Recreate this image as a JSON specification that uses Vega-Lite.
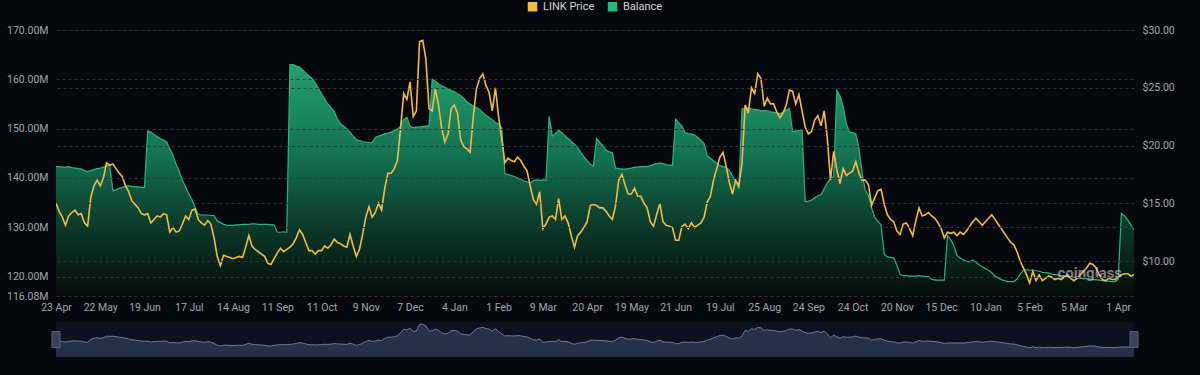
{
  "$schema": "https://vega.github.io/schema/vega-lite/v6.json",
  "background": "#07080d",
  "padding": {"left": 6, "top": 1, "right": 29, "bottom": 18},
  "autosize": {"type": "pad"},
  "bounds": "flush",
  "spacing": 26,
  "config": {
    "view": {"stroke": null},
    "font": "Roboto",
    "axis": {"labelColor": "#a2a5ad", "labelFontSize": 10.5, "labelFont": "Roboto", "domain": false, "ticks": false, "tickSize": 0, "gridColor": "#30333b", "gridDash": [3, 3], "gridWidth": 1, "labelOverlap": false}
  },
  "data": {"values": [
    {"date":"2023-04-23","balance":142.3,"price":15.0},
    {"date":"2023-04-25","balance":142.3,"price":14.3},
    {"date":"2023-04-27","balance":142.2,"price":13.8},
    {"date":"2023-04-29","balance":142.2,"price":13.1},
    {"date":"2023-05-01","balance":142.3,"price":13.9},
    {"date":"2023-05-03","balance":142.1,"price":14.2},
    {"date":"2023-05-05","balance":142.0,"price":14.4},
    {"date":"2023-05-07","balance":141.9,"price":14.0},
    {"date":"2023-05-09","balance":141.8,"price":14.1},
    {"date":"2023-05-11","balance":141.5,"price":13.3},
    {"date":"2023-05-13","balance":141.3,"price":13.0},
    {"date":"2023-05-15","balance":141.5,"price":15.5},
    {"date":"2023-05-17","balance":141.7,"price":16.5},
    {"date":"2023-05-19","balance":141.9,"price":17.0},
    {"date":"2023-05-22","balance":142.0,"price":16.5},
    {"date":"2023-05-24","balance":142.2,"price":17.2},
    {"date":"2023-05-26","balance":142.5,"price":18.5},
    {"date":"2023-05-28","balance":142.6,"price":18.3},
    {"date":"2023-05-30","balance":137.4,"price":18.4},
    {"date":"2023-06-01","balance":137.6,"price":18.0},
    {"date":"2023-06-03","balance":137.9,"price":17.6},
    {"date":"2023-06-05","balance":138.1,"price":17.3},
    {"date":"2023-06-07","balance":138.3,"price":16.5},
    {"date":"2023-06-09","balance":138.4,"price":16.0},
    {"date":"2023-06-11","balance":138.3,"price":15.2},
    {"date":"2023-06-13","balance":138.2,"price":14.9},
    {"date":"2023-06-15","balance":138.2,"price":14.6},
    {"date":"2023-06-17","balance":138.1,"price":14.1},
    {"date":"2023-06-19","balance":138.1,"price":14.0},
    {"date":"2023-06-21","balance":149.5,"price":14.1},
    {"date":"2023-06-23","balance":149.3,"price":13.3},
    {"date":"2023-06-25","balance":148.8,"price":13.6},
    {"date":"2023-06-27","balance":148.4,"price":13.9},
    {"date":"2023-06-29","balance":148.0,"price":13.8},
    {"date":"2023-07-01","balance":147.7,"price":14.1},
    {"date":"2023-07-03","balance":147.3,"price":14.0},
    {"date":"2023-07-05","balance":145.9,"price":12.5},
    {"date":"2023-07-07","balance":144.6,"price":12.9},
    {"date":"2023-07-09","balance":142.8,"price":12.5},
    {"date":"2023-07-11","balance":141.3,"price":12.6},
    {"date":"2023-07-13","balance":139.5,"price":13.2},
    {"date":"2023-07-15","balance":138.2,"price":13.9},
    {"date":"2023-07-17","balance":136.8,"price":13.6},
    {"date":"2023-07-19","balance":135.6,"price":14.4},
    {"date":"2023-07-21","balance":134.0,"price":14.5},
    {"date":"2023-07-23","balance":132.7,"price":13.6},
    {"date":"2023-07-25","balance":132.5,"price":13.3},
    {"date":"2023-07-27","balance":132.5,"price":13.1},
    {"date":"2023-07-29","balance":132.5,"price":13.5},
    {"date":"2023-07-31","balance":132.4,"price":13.2},
    {"date":"2023-08-02","balance":132.4,"price":12.0},
    {"date":"2023-08-04","balance":131.3,"price":10.4},
    {"date":"2023-08-06","balance":131.0,"price":9.6},
    {"date":"2023-08-08","balance":130.6,"price":10.5},
    {"date":"2023-08-10","balance":130.4,"price":10.4},
    {"date":"2023-08-12","balance":130.4,"price":10.3},
    {"date":"2023-08-14","balance":130.4,"price":10.2},
    {"date":"2023-08-16","balance":130.5,"price":10.3},
    {"date":"2023-08-18","balance":130.5,"price":10.4},
    {"date":"2023-08-20","balance":130.6,"price":10.3},
    {"date":"2023-08-22","balance":130.6,"price":11.2},
    {"date":"2023-08-24","balance":130.6,"price":12.2},
    {"date":"2023-08-26","balance":130.7,"price":11.3},
    {"date":"2023-08-28","balance":130.7,"price":11.0},
    {"date":"2023-08-30","balance":130.6,"price":10.8},
    {"date":"2023-09-01","balance":130.6,"price":10.6},
    {"date":"2023-09-03","balance":130.6,"price":10.4},
    {"date":"2023-09-05","balance":130.6,"price":9.8},
    {"date":"2023-09-07","balance":130.5,"price":9.7},
    {"date":"2023-09-09","balance":130.5,"price":10.2},
    {"date":"2023-09-11","balance":129.0,"price":10.7},
    {"date":"2023-09-13","balance":129.0,"price":11.1},
    {"date":"2023-09-15","balance":129.1,"price":10.8},
    {"date":"2023-09-17","balance":129.0,"price":11.0},
    {"date":"2023-09-19","balance":163.0,"price":11.2},
    {"date":"2023-09-21","balance":163.0,"price":11.5},
    {"date":"2023-09-23","balance":162.7,"price":12.0},
    {"date":"2023-09-25","balance":162.5,"price":12.7},
    {"date":"2023-09-27","balance":161.9,"price":12.3},
    {"date":"2023-09-29","balance":161.3,"price":11.6},
    {"date":"2023-10-01","balance":160.7,"price":10.9},
    {"date":"2023-10-03","balance":160.2,"price":10.9},
    {"date":"2023-10-05","balance":159.3,"price":10.6},
    {"date":"2023-10-07","balance":158.2,"price":10.9},
    {"date":"2023-10-11","balance":157.0,"price":10.9},
    {"date":"2023-10-13","balance":156.0,"price":11.3},
    {"date":"2023-10-15","balance":155.0,"price":11.1},
    {"date":"2023-10-17","balance":154.2,"price":11.4},
    {"date":"2023-10-19","balance":153.5,"price":11.9},
    {"date":"2023-10-21","balance":152.0,"price":11.6},
    {"date":"2023-10-23","balance":151.0,"price":11.5},
    {"date":"2023-10-25","balance":150.5,"price":11.3},
    {"date":"2023-10-27","balance":150.0,"price":11.2},
    {"date":"2023-10-29","balance":149.3,"price":12.3},
    {"date":"2023-10-31","balance":148.5,"price":11.3},
    {"date":"2023-11-02","balance":147.8,"price":10.4},
    {"date":"2023-11-04","balance":147.6,"price":11.0},
    {"date":"2023-11-06","balance":147.4,"price":12.3},
    {"date":"2023-11-09","balance":147.3,"price":13.8},
    {"date":"2023-11-11","balance":147.2,"price":14.7},
    {"date":"2023-11-13","balance":147.2,"price":13.8},
    {"date":"2023-11-15","balance":148.2,"price":14.2},
    {"date":"2023-11-17","balance":148.5,"price":15.0},
    {"date":"2023-11-19","balance":148.7,"price":14.4},
    {"date":"2023-11-21","balance":149.0,"price":16.3},
    {"date":"2023-11-23","balance":149.1,"price":17.6},
    {"date":"2023-11-25","balance":149.3,"price":17.6},
    {"date":"2023-11-27","balance":149.6,"price":18.0},
    {"date":"2023-11-29","balance":149.9,"price":18.7},
    {"date":"2023-12-01","balance":150.5,"price":21.5},
    {"date":"2023-12-03","balance":151.9,"price":24.5},
    {"date":"2023-12-05","balance":152.3,"price":24.0},
    {"date":"2023-12-07","balance":150.5,"price":25.5},
    {"date":"2023-12-09","balance":150.2,"price":22.5},
    {"date":"2023-12-11","balance":150.3,"price":23.0},
    {"date":"2023-12-13","balance":150.3,"price":29.0},
    {"date":"2023-12-15","balance":150.4,"price":29.1},
    {"date":"2023-12-17","balance":150.5,"price":27.5},
    {"date":"2023-12-19","balance":150.6,"price":23.2},
    {"date":"2023-12-21","balance":160.0,"price":23.0},
    {"date":"2023-12-23","balance":159.6,"price":24.9},
    {"date":"2023-12-25","balance":159.1,"price":23.5},
    {"date":"2023-12-27","balance":158.7,"price":21.5},
    {"date":"2023-12-29","balance":158.4,"price":20.3},
    {"date":"2023-12-31","balance":158.1,"price":21.0},
    {"date":"2024-01-02","balance":157.8,"price":23.2},
    {"date":"2024-01-04","balance":157.5,"price":23.5},
    {"date":"2024-01-06","balance":157.1,"price":22.8},
    {"date":"2024-01-08","balance":156.7,"price":20.5},
    {"date":"2024-01-10","balance":156.2,"price":19.9},
    {"date":"2024-01-12","balance":155.4,"price":19.7},
    {"date":"2024-01-14","balance":155.0,"price":19.4},
    {"date":"2024-01-16","balance":154.6,"price":22.5},
    {"date":"2024-01-18","balance":154.3,"price":24.9},
    {"date":"2024-01-20","balance":153.9,"price":25.8},
    {"date":"2024-01-22","balance":153.3,"price":26.2},
    {"date":"2024-01-24","balance":152.7,"price":25.2},
    {"date":"2024-01-26","balance":152.2,"price":24.6},
    {"date":"2024-01-28","balance":151.8,"price":23.0},
    {"date":"2024-01-30","balance":151.2,"price":25.0},
    {"date":"2024-02-01","balance":151.0,"price":22.5},
    {"date":"2024-02-03","balance":150.2,"price":20.6},
    {"date":"2024-02-05","balance":140.9,"price":18.5},
    {"date":"2024-02-07","balance":140.7,"price":18.9},
    {"date":"2024-02-09","balance":140.5,"price":18.7},
    {"date":"2024-02-11","balance":140.3,"price":18.6},
    {"date":"2024-02-13","balance":140.0,"price":19.0},
    {"date":"2024-02-15","balance":139.7,"price":18.7},
    {"date":"2024-02-17","balance":139.4,"price":18.2},
    {"date":"2024-02-19","balance":139.2,"price":17.8},
    {"date":"2024-02-21","balance":139.0,"price":16.5},
    {"date":"2024-02-23","balance":139.5,"price":15.3},
    {"date":"2024-02-25","balance":139.6,"price":14.9},
    {"date":"2024-02-27","balance":139.5,"price":16.0},
    {"date":"2024-03-09","balance":139.6,"price":12.8},
    {"date":"2024-03-11","balance":139.5,"price":13.2},
    {"date":"2024-03-13","balance":152.5,"price":13.8},
    {"date":"2024-03-15","balance":148.5,"price":13.9},
    {"date":"2024-03-17","balance":149.0,"price":13.6},
    {"date":"2024-03-19","balance":149.7,"price":15.4},
    {"date":"2024-03-21","balance":149.2,"price":13.6},
    {"date":"2024-03-23","balance":148.6,"price":13.9},
    {"date":"2024-03-25","balance":148.0,"price":13.3},
    {"date":"2024-03-27","balance":147.4,"price":12.2},
    {"date":"2024-03-29","balance":146.8,"price":11.2},
    {"date":"2024-03-31","balance":146.2,"price":12.2},
    {"date":"2024-04-02","balance":145.2,"price":12.5},
    {"date":"2024-04-04","balance":144.3,"price":12.9},
    {"date":"2024-04-20","balance":143.5,"price":13.4},
    {"date":"2024-04-22","balance":142.8,"price":14.8},
    {"date":"2024-04-24","balance":142.4,"price":14.9},
    {"date":"2024-04-26","balance":148.0,"price":14.8},
    {"date":"2024-04-28","balance":147.2,"price":14.6},
    {"date":"2024-04-30","balance":146.6,"price":14.6},
    {"date":"2024-05-02","balance":145.6,"price":14.3},
    {"date":"2024-05-04","balance":145.3,"price":13.9},
    {"date":"2024-05-06","balance":145.1,"price":13.6},
    {"date":"2024-05-08","balance":142.0,"price":14.8},
    {"date":"2024-05-10","balance":141.9,"price":17.0},
    {"date":"2024-05-12","balance":141.8,"price":17.5},
    {"date":"2024-05-14","balance":141.8,"price":16.6},
    {"date":"2024-05-16","balance":141.9,"price":15.8},
    {"date":"2024-05-19","balance":142.0,"price":15.8},
    {"date":"2024-05-21","balance":142.2,"price":16.3},
    {"date":"2024-05-23","balance":142.2,"price":15.6},
    {"date":"2024-05-25","balance":142.3,"price":15.6},
    {"date":"2024-05-27","balance":142.3,"price":15.0},
    {"date":"2024-05-29","balance":142.3,"price":14.6},
    {"date":"2024-05-31","balance":142.5,"price":13.4},
    {"date":"2024-06-02","balance":142.7,"price":13.0},
    {"date":"2024-06-04","balance":142.9,"price":14.0},
    {"date":"2024-06-06","balance":143.0,"price":15.0},
    {"date":"2024-06-08","balance":142.9,"price":13.4},
    {"date":"2024-06-10","balance":142.7,"price":13.1},
    {"date":"2024-06-12","balance":142.6,"price":13.0},
    {"date":"2024-06-14","balance":142.5,"price":12.9},
    {"date":"2024-06-21","balance":151.9,"price":11.8},
    {"date":"2024-06-23","balance":151.2,"price":11.8},
    {"date":"2024-06-25","balance":150.5,"price":13.0},
    {"date":"2024-06-27","balance":149.2,"price":13.2},
    {"date":"2024-06-29","balance":149.0,"price":12.8},
    {"date":"2024-07-01","balance":148.9,"price":13.3},
    {"date":"2024-07-03","balance":148.7,"price":12.9},
    {"date":"2024-07-05","balance":148.2,"price":13.1},
    {"date":"2024-07-07","balance":147.6,"price":13.3},
    {"date":"2024-07-09","balance":147.0,"price":13.8},
    {"date":"2024-07-11","balance":144.5,"price":15.1},
    {"date":"2024-07-13","balance":144.0,"price":15.6},
    {"date":"2024-07-15","balance":143.5,"price":17.0},
    {"date":"2024-07-17","balance":143.0,"price":18.0},
    {"date":"2024-07-19","balance":142.5,"price":19.0},
    {"date":"2024-07-21","balance":142.3,"price":19.4},
    {"date":"2024-07-23","balance":142.1,"price":18.2},
    {"date":"2024-07-25","balance":141.5,"price":16.8},
    {"date":"2024-07-27","balance":140.4,"price":15.8},
    {"date":"2024-07-29","balance":139.2,"price":17.0},
    {"date":"2024-07-31","balance":137.8,"price":16.5},
    {"date":"2024-08-02","balance":154.0,"price":18.5},
    {"date":"2024-08-04","balance":154.1,"price":23.5},
    {"date":"2024-08-06","balance":154.2,"price":22.8},
    {"date":"2024-08-08","balance":154.0,"price":25.0},
    {"date":"2024-08-10","balance":153.9,"price":24.5},
    {"date":"2024-08-12","balance":153.8,"price":26.2},
    {"date":"2024-08-14","balance":153.6,"price":25.8},
    {"date":"2024-08-25","balance":153.7,"price":23.4},
    {"date":"2024-08-27","balance":153.6,"price":24.1},
    {"date":"2024-08-29","balance":153.4,"price":23.6},
    {"date":"2024-08-31","balance":153.3,"price":23.6},
    {"date":"2024-09-02","balance":153.2,"price":22.9},
    {"date":"2024-09-04","balance":153.0,"price":22.4},
    {"date":"2024-09-06","balance":153.4,"price":22.8},
    {"date":"2024-09-08","balance":153.8,"price":23.5},
    {"date":"2024-09-10","balance":154.1,"price":24.8},
    {"date":"2024-09-12","balance":149.4,"price":24.7},
    {"date":"2024-09-14","balance":149.5,"price":23.6},
    {"date":"2024-09-16","balance":149.6,"price":24.4},
    {"date":"2024-09-18","balance":149.7,"price":23.0},
    {"date":"2024-09-20","balance":135.2,"price":21.6},
    {"date":"2024-09-24","balance":135.3,"price":21.0},
    {"date":"2024-09-26","balance":135.5,"price":21.2},
    {"date":"2024-09-28","balance":136.0,"price":22.2},
    {"date":"2024-09-30","balance":136.4,"price":22.6},
    {"date":"2024-10-02","balance":136.6,"price":21.7},
    {"date":"2024-10-04","balance":137.8,"price":23.0},
    {"date":"2024-10-06","balance":139.0,"price":20.6},
    {"date":"2024-10-08","balance":139.9,"price":17.0},
    {"date":"2024-10-10","balance":140.3,"price":19.5},
    {"date":"2024-10-12","balance":157.8,"price":17.9},
    {"date":"2024-10-14","balance":156.6,"price":16.7},
    {"date":"2024-10-16","balance":154.5,"price":18.0},
    {"date":"2024-10-18","balance":151.0,"price":17.4},
    {"date":"2024-10-20","balance":149.3,"price":17.6},
    {"date":"2024-10-24","balance":149.2,"price":17.8},
    {"date":"2024-10-26","balance":149.0,"price":18.6},
    {"date":"2024-10-28","balance":146.0,"price":17.6},
    {"date":"2024-10-30","balance":141.0,"price":17.0},
    {"date":"2024-11-01","balance":137.5,"price":17.0},
    {"date":"2024-11-03","balance":136.5,"price":16.6},
    {"date":"2024-11-05","balance":134.0,"price":14.8},
    {"date":"2024-11-07","balance":132.0,"price":15.5},
    {"date":"2024-11-09","balance":131.2,"price":16.1},
    {"date":"2024-11-11","balance":130.5,"price":16.2},
    {"date":"2024-11-13","balance":124.5,"price":14.9},
    {"date":"2024-11-15","balance":124.0,"price":14.0},
    {"date":"2024-11-17","balance":123.9,"price":13.6},
    {"date":"2024-11-19","balance":123.8,"price":13.4},
    {"date":"2024-11-20","balance":122.3,"price":12.6},
    {"date":"2024-11-22","balance":120.5,"price":12.3},
    {"date":"2024-11-24","balance":120.2,"price":13.2},
    {"date":"2024-11-26","balance":120.2,"price":13.3},
    {"date":"2024-11-28","balance":120.1,"price":12.8},
    {"date":"2024-11-30","balance":120.1,"price":12.2},
    {"date":"2024-12-02","balance":120.1,"price":13.5},
    {"date":"2024-12-04","balance":120.2,"price":14.6},
    {"date":"2024-12-06","balance":120.1,"price":13.9},
    {"date":"2024-12-08","balance":120.0,"price":14.0},
    {"date":"2024-12-10","balance":120.0,"price":14.2},
    {"date":"2024-12-12","balance":119.5,"price":13.9},
    {"date":"2024-12-13","balance":119.3,"price":13.7},
    {"date":"2024-12-14","balance":119.3,"price":13.3},
    {"date":"2024-12-15","balance":119.3,"price":12.8},
    {"date":"2024-12-17","balance":119.3,"price":12.0},
    {"date":"2024-12-19","balance":128.3,"price":12.5},
    {"date":"2024-12-21","balance":127.5,"price":12.4},
    {"date":"2024-12-23","balance":126.3,"price":12.5},
    {"date":"2024-12-25","balance":124.3,"price":12.2},
    {"date":"2024-12-27","balance":123.8,"price":12.5},
    {"date":"2024-12-29","balance":123.4,"price":12.3},
    {"date":"2024-12-31","balance":123.1,"price":12.6},
    {"date":"2025-01-02","balance":123.0,"price":13.0},
    {"date":"2025-01-04","balance":123.4,"price":13.4},
    {"date":"2025-01-06","balance":122.9,"price":13.7},
    {"date":"2025-01-08","balance":122.4,"price":13.4},
    {"date":"2025-01-09","balance":122.0,"price":13.1},
    {"date":"2025-01-10","balance":121.6,"price":13.4},
    {"date":"2025-01-12","balance":121.3,"price":13.7},
    {"date":"2025-01-14","balance":120.8,"price":14.0},
    {"date":"2025-01-16","balance":120.1,"price":13.6},
    {"date":"2025-01-18","balance":119.8,"price":13.2},
    {"date":"2025-01-20","balance":119.4,"price":12.8},
    {"date":"2025-01-22","balance":119.2,"price":12.4},
    {"date":"2025-01-24","balance":119.0,"price":12.0},
    {"date":"2025-01-26","balance":119.0,"price":11.6},
    {"date":"2025-01-28","balance":119.0,"price":11.4},
    {"date":"2025-01-30","balance":119.5,"price":10.8},
    {"date":"2025-02-01","balance":120.5,"price":10.0},
    {"date":"2025-02-03","balance":121.3,"price":9.4},
    {"date":"2025-02-04","balance":121.4,"price":8.8},
    {"date":"2025-02-05","balance":121.3,"price":8.1},
    {"date":"2025-02-07","balance":121.3,"price":9.1},
    {"date":"2025-02-09","balance":121.2,"price":8.3},
    {"date":"2025-02-11","balance":121.1,"price":8.8},
    {"date":"2025-02-13","balance":120.9,"price":8.3},
    {"date":"2025-02-15","balance":120.8,"price":8.5},
    {"date":"2025-02-17","balance":120.7,"price":8.7},
    {"date":"2025-02-19","balance":120.5,"price":8.6},
    {"date":"2025-02-21","balance":120.4,"price":8.4},
    {"date":"2025-02-23","balance":120.3,"price":8.5},
    {"date":"2025-02-25","balance":120.2,"price":8.4},
    {"date":"2025-02-27","balance":120.1,"price":8.6},
    {"date":"2025-03-01","balance":120.0,"price":8.8},
    {"date":"2025-03-03","balance":119.9,"price":8.5},
    {"date":"2025-03-05","balance":119.9,"price":8.3},
    {"date":"2025-03-07","balance":119.8,"price":8.5},
    {"date":"2025-03-09","balance":119.7,"price":8.8},
    {"date":"2025-03-11","balance":119.6,"price":9.1},
    {"date":"2025-03-13","balance":119.6,"price":9.4},
    {"date":"2025-03-15","balance":119.5,"price":9.8},
    {"date":"2025-03-17","balance":119.4,"price":9.7},
    {"date":"2025-03-19","balance":119.4,"price":9.4},
    {"date":"2025-03-21","balance":119.3,"price":8.8},
    {"date":"2025-03-23","balance":119.2,"price":8.4},
    {"date":"2025-03-25","balance":119.1,"price":8.3},
    {"date":"2025-03-27","balance":119.1,"price":8.5},
    {"date":"2025-03-29","balance":119.0,"price":8.4},
    {"date":"2025-03-31","balance":119.0,"price":8.4},
    {"date":"2025-04-01","balance":119.5,"price":8.6},
    {"date":"2025-04-03","balance":132.8,"price":8.8},
    {"date":"2025-04-05","balance":132.3,"price":8.9},
    {"date":"2025-04-07","balance":131.5,"price":8.9},
    {"date":"2025-04-09","balance":130.5,"price":8.7},
    {"date":"2025-04-11","balance":129.5,"price":8.8}
  ]},
  "vconcat": [
    {
      "width": 1078,
      "height": 266,
      "resolve": {"scale": {"y": "independent"}},
      "encoding": {
        "x": {"field": "date", "type": "ordinal", "scale": {"type": "point", "padding": 0},
          "axis": {"values": ["2023-04-23","2023-05-22","2023-06-19","2023-07-17","2023-08-14","2023-09-11","2023-10-11","2023-11-09","2023-12-07","2024-01-04","2024-02-01","2024-03-09","2024-04-20","2024-05-19","2024-06-21","2024-07-19","2024-08-25","2024-09-24","2024-10-24","2024-11-20","2024-12-15","2025-01-10","2025-02-05","2025-03-05","2025-04-01"],
            "labelExpr": "utcFormat(toDate(datum.value), '%-d %b')", "labelAngle": 0, "labelPadding": 6, "grid": false, "title": null}}
      },
      "layer": [
        {
          "encoding": {
            "y": {"field": "balance", "type": "quantitative", "scale": {"domain": [116.08, 170], "nice": false, "zero": false},
              "axis": {"orient": "left", "values": [116.08, 120, 130, 140, 150, 160, 170], "labelExpr": "format(datum.value, '.2f') + 'M'", "labelPadding": 8, "grid": true, "zindex": 1, "title": null}}
          },
          "layer": [
            {
              "mark": {"type": "area", "clip": true, "opacity": 1, "color": {"gradient": "linear", "x1": 0, "y1": 0, "x2": 0, "y2": 1, "stops": [{"offset": 0, "color": "#22a070"}, {"offset": 0.4, "color": "#137050"}, {"offset": 0.7, "color": "#0a3a29"}, {"offset": 1, "color": "#050b0a"}]}},
              "encoding": {"y2": {"datum": 116.08}}
            },
            {
              "mark": {"type": "line", "clip": true, "color": "#2cb380", "strokeWidth": 1.2}
            },
            {
              "transform": [{"filter": "false"}],
              "mark": {"type": "point", "shape": "square", "filled": true, "opacity": 1},
              "encoding": {
                "color": {"datum": "LINK Price", "scale": {"domain": ["LINK Price", "Balance"], "range": ["#f2bb47", "#22b97c"]},
                  "legend": {"title": null, "orient": "none", "legendX": 471, "legendY": -29, "direction": "horizontal", "symbolType": "square", "symbolSize": 90, "symbolStrokeWidth": 0, "labelColor": "#d4d5d9", "labelFontSize": 11, "labelFont": "Roboto", "labelOffset": 5, "columnPadding": 12, "padding": 0}}
              }
            },
            {
              "transform": [{"filter": "false"}],
              "mark": {"type": "point", "shape": "square", "filled": true, "opacity": 1},
              "encoding": {"color": {"datum": "Balance"}}
            }
          ]
        },
        {
          "encoding": {
            "y": {"field": "price", "type": "quantitative", "scale": {"domain": [6.97, 30], "nice": false, "zero": false},
              "axis": {"orient": "right", "values": [10, 15, 20, 25, 30], "labelExpr": "'$' + format(datum.value, '.2f')", "labelPadding": 8, "grid": true, "zindex": 1, "title": null}}
          },
          "layer": [
            {
              "mark": {"type": "line", "clip": true, "color": "#f2bb47", "strokeWidth": 1.6}
            },
            {
              "transform": [{"filter": "datum.date == '2025-03-15'"}],
              "mark": {"type": "text", "text": "coinglass", "font": "Roboto", "fontSize": 15, "fontWeight": "bold", "color": "#c9ccd2", "opacity": 0.6, "baseline": "middle", "align": "center", "dy": 10}
            }
          ]
        }
      ]
    },
    {
      "width": 1078,
      "height": 35,
      "view": {"fill": "#0c111d", "stroke": null},
      "encoding": {
        "x": {"field": "date", "type": "ordinal", "scale": {"type": "point", "padding": 0}, "axis": null}
      },
      "layer": [
        {
          "mark": {"type": "area", "color": "#263049", "opacity": 1, "line": {"color": "#6b7ba3", "strokeWidth": 1}},
          "encoding": {
            "y": {"field": "price", "type": "quantitative", "scale": {"domain": [0, 31], "nice": false}, "axis": null}
          }
        },
        {
          "transform": [{"filter": "datum.date == '2023-04-23' || datum.date == '2025-04-11'"}],
          "mark": {"type": "point", "shape": "M-0.5,-1H0.5V1H-0.5Z", "filled": true, "color": "#3b4257", "stroke": "#596178", "strokeWidth": 1, "opacity": 1, "size": 256},
          "encoding": {
            "y": {"datum": 15.5, "type": "quantitative", "scale": {"domain": [0, 31], "nice": false}, "axis": null}
          }
        }
      ]
    }
  ]
}
